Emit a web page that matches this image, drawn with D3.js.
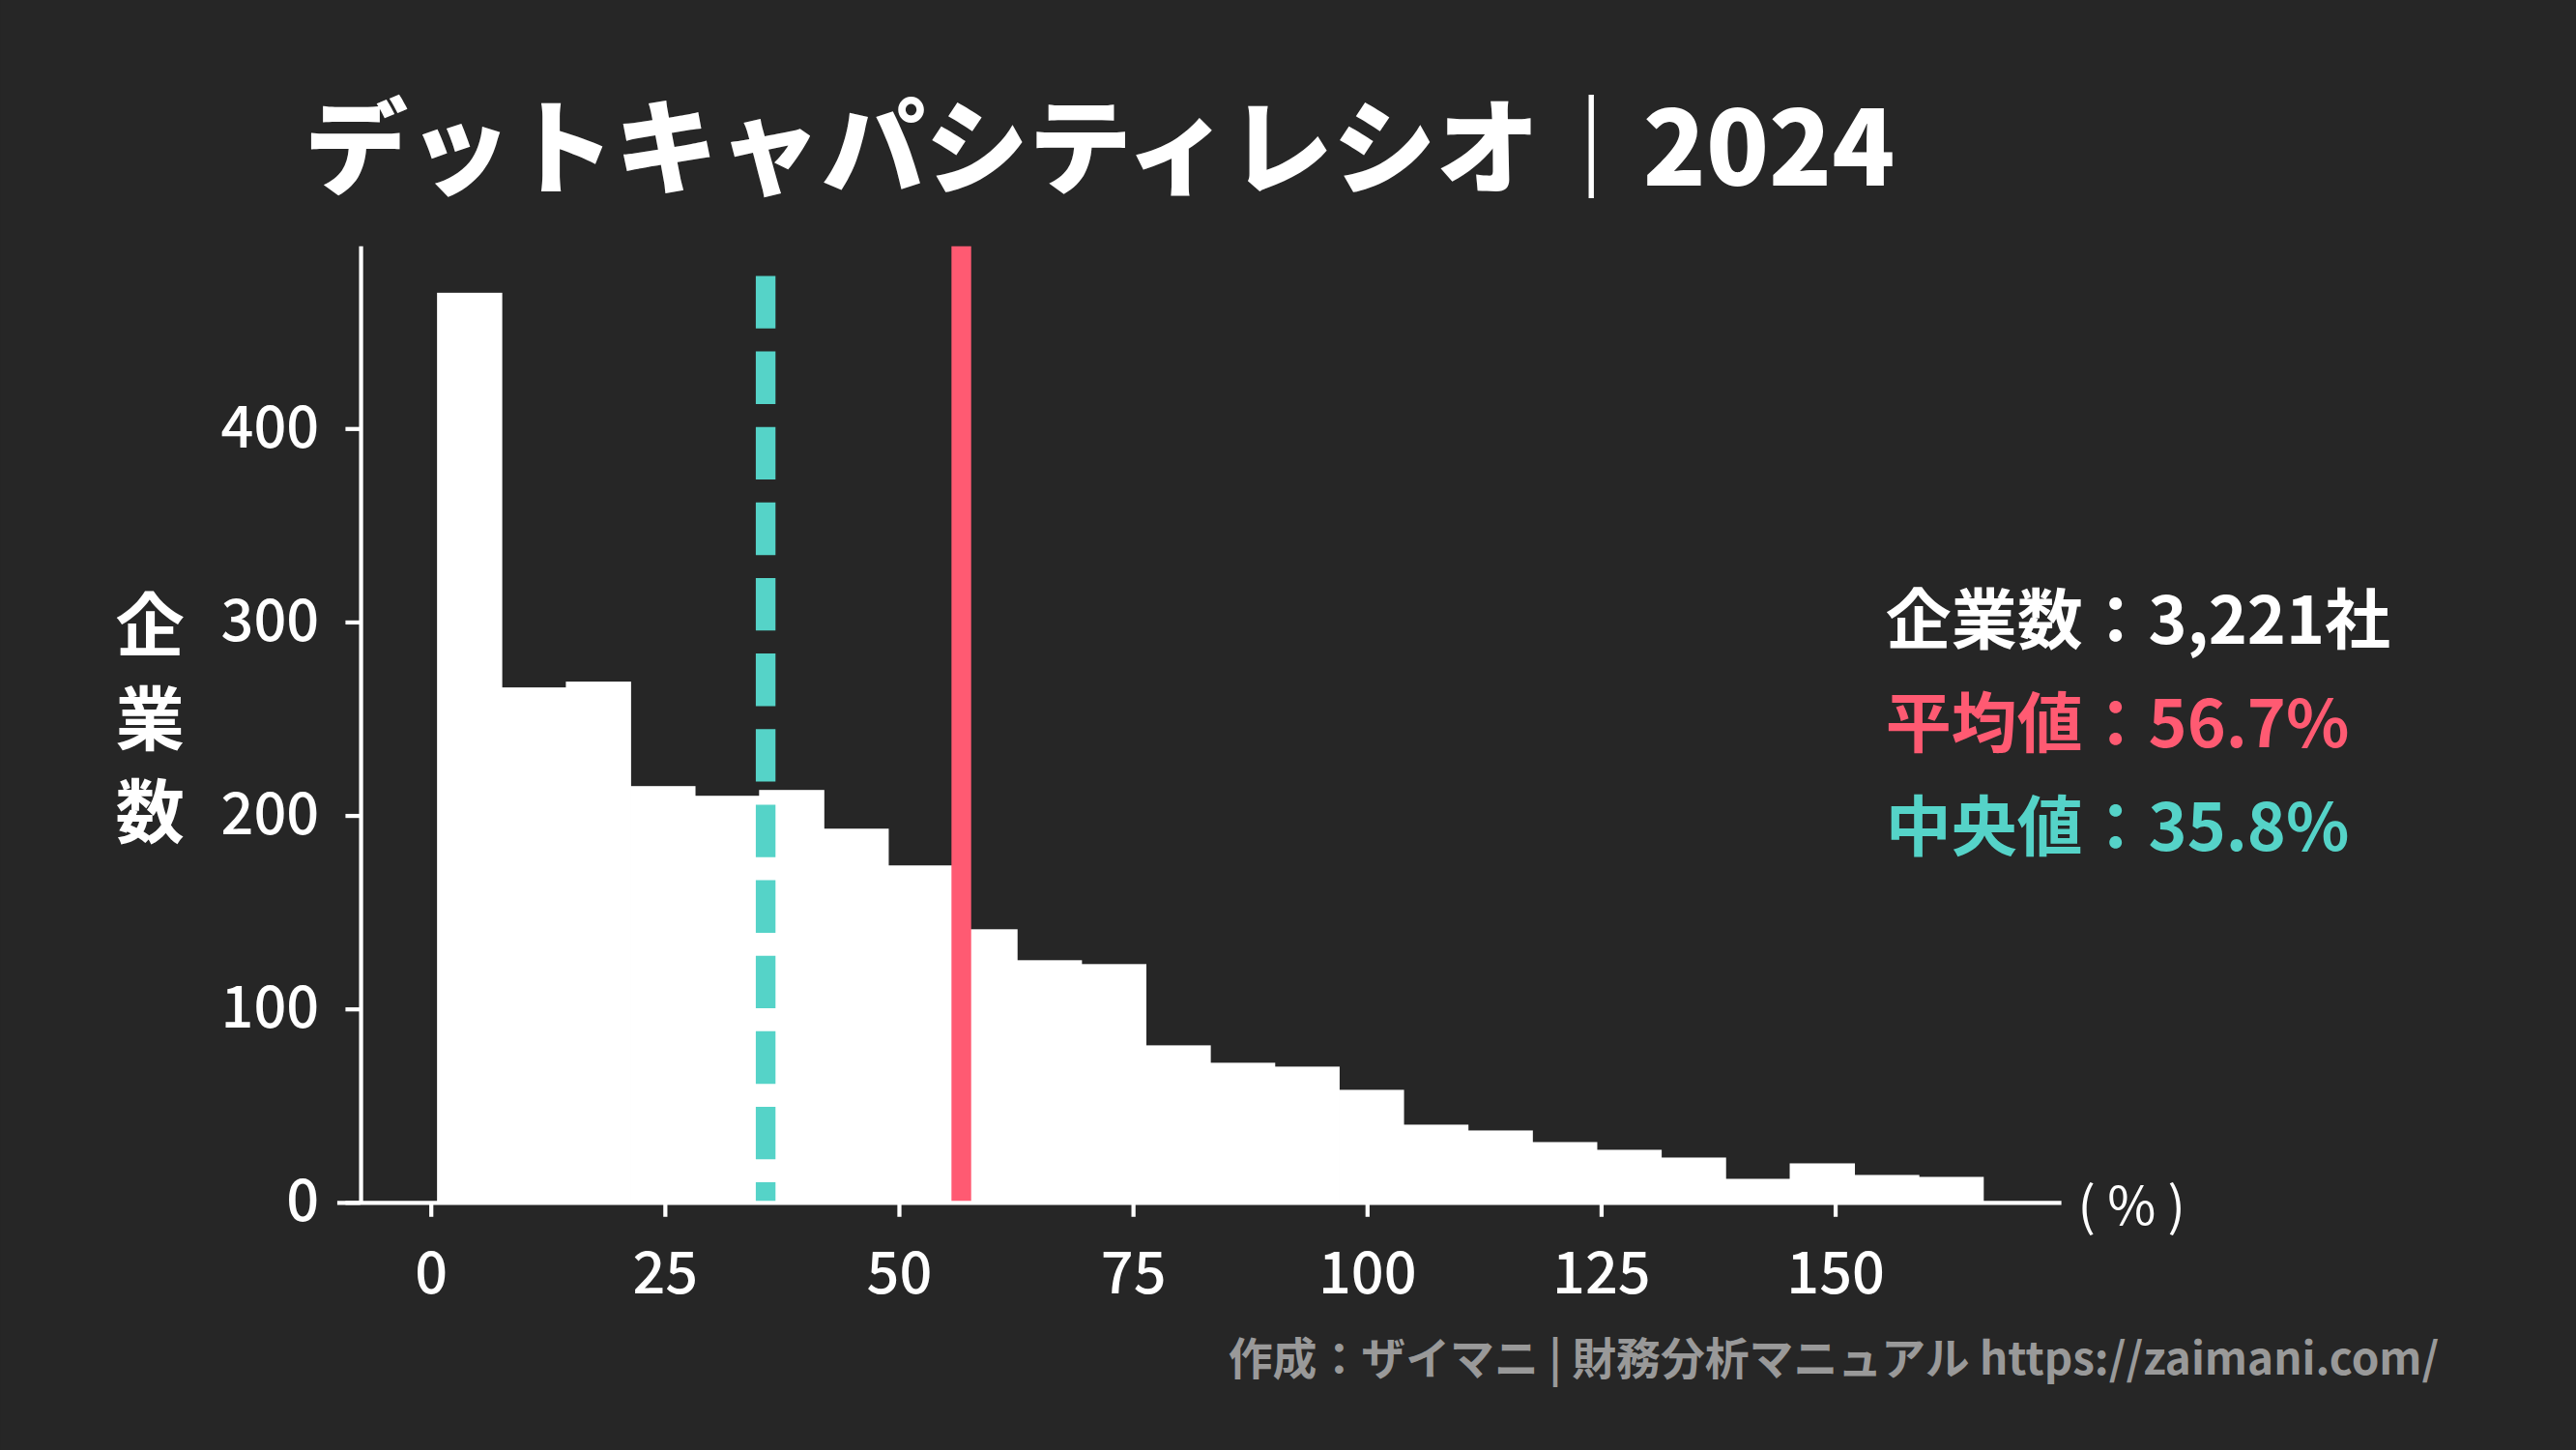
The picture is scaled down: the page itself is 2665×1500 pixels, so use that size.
<!DOCTYPE html>
<html><head><meta charset="utf-8">
<script src="https://cdn.jsdelivr.net/npm/d3@7"></script>
<style>body{margin:0;background:#262626}svg{display:block}text{font-family:"Noto Sans CJK JP","Noto Sans",sans-serif}</style>
</head><body>
<script>
const binStart = 0.7, binWidth = 6.88;
const counts = [470,266,269,215,210,213,193,174,141,125,123,81,72,70,58,40,37,31,27,23,12,20,14,13];
const xTicks = [0,25,50,75,100,125,150];
const yTicks = [0,100,200,300,400];
const meanVal = 56.7, medianVal = 35.8;
const legendLines = [["企業数：3,221社","#ffffff"],["平均値：56.7%","#ff5a72"],["中央値：35.8%","#55d3c8"]];

const svg = d3.select("body").append("svg").attr("width",2665).attr("height",1500).attr("viewBox","0 0 1568 883");
svg.append("rect").attr("width",1568).attr("height",883).attr("fill","#262626");
const x = d3.scaleLinear().domain([-7.5,174.2]).range([219,1255]);
const y = d3.scaleLinear().domain([0,494]).range([732,150]);

svg.selectAll("rect.bar").data(counts).enter().append("rect")
 .attr("x",(d,i)=>x(binStart+i*binWidth)).attr("width",x(binWidth)-x(0)+0.5)
 .attr("y",d=>y(d)).attr("height",d=>y(0)-y(d)).attr("fill","#fff");

svg.append("line").attr("x1",x(medianVal)).attr("x2",x(medianVal)).attr("y1",168).attr("y2",732)
 .attr("stroke","#55d3c8").attr("stroke-width",12).attr("stroke-dasharray","32,14");
svg.append("line").attr("x1",x(meanVal)).attr("x2",x(meanVal)).attr("y1",150).attr("y2",732)
 .attr("stroke","#ff5a72").attr("stroke-width",12);

const ga = svg.append("g").attr("transform","translate(0,732)").call(d3.axisBottom(x).tickValues(xTicks).tickSize(9).tickPadding(22));
const gy = svg.append("g").attr("transform","translate(219,0)").call(d3.axisLeft(y).tickValues(yTicks).tickSize(9).tickPadding(16));
[ga,gy].forEach(g=>{g.select(".domain").attr("stroke","#fff").attr("stroke-width",2.5);
 g.selectAll(".tick line").attr("stroke","#fff").attr("stroke-width",2.5);
 g.selectAll("text").attr("fill","#fff").attr("font-size",35).attr("font-family","'Noto Sans CJK JP'").attr("font-weight",500);});
ga.select(".domain").attr("d","M205,0.5H1255");
gy.select(".domain").attr("d","M0.5,150V732");

svg.append("text").attr("x",185).attr("y",113).attr("fill","#fff").attr("font-size",63).attr("font-weight",900).text("デットキャパシティレシオ｜2024");
["企","業","数"].forEach((c,i)=>svg.append("text").attr("x",91).attr("y",396+i*57).attr("text-anchor","middle").attr("fill","#fff").attr("font-size",42).attr("font-weight",700).text(c));
svg.append("text").attr("x",1265).attr("y",746).attr("fill","#fff").attr("font-size",32).text("( % )");
legendLines.forEach((l,i)=>svg.append("text").attr("x",1148).attr("y",392+i*63).attr("fill",l[1]).attr("font-size",40).attr("font-weight",700).text(l[0]));
svg.append("text").attr("x",1485).attr("y",837).attr("text-anchor","end").attr("fill","#999").attr("font-size",27).attr("font-weight",700).text("作成：ザイマニ | 財務分析マニュアル https://zaimani.com/");
</script></body></html>
